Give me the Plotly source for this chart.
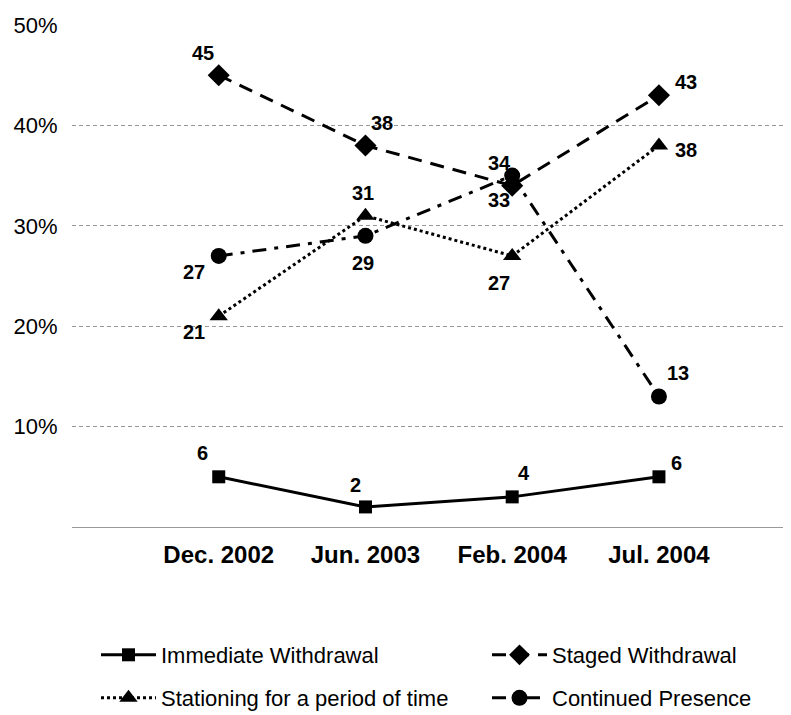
import plotly.graph_objects as go

# survey waves
waves = ["Dec. 2002", "Jun. 2003", "Feb. 2004", "Jul. 2004"]

# plotted values (as drawn in the chart) and the printed labels
immediate = [5, 2, 3, 5]
immediate_lbl = ["6", "2", "4", "6"]
staged = [45, 38, 34, 43]
staged_lbl = ["45", "38", "33", "43"]
stationing = [21, 31, 27, 38]
stationing_lbl = ["21", "31", "27", "38"]
presence = [27, 29, 35, 13]
presence_lbl = ["27", "29", "34", "13"]

y_ticks = [10, 20, 30, 40, 50]
y_ticktext = ["10%", "20%", "30%", "40%", "50%"]

FONT = "Liberation Sans, Arial, sans-serif"

# the page body has an 8px margin, so the figure is drawn 8px smaller
W, H = 783, 707

series = [
    # name, values, labels, marker, dash, legend id, label offsets (px: right, down), marker size
    ("Immediate Withdrawal", immediate, immediate_lbl, "square", "solid", "legend",
     [(-16, -24), (-10, -22), (12, -24), (18, -14)], 13),
    ("Staged Withdrawal", staged, staged_lbl, "diamond", "14px,9px", "legend2",
     [(-16, -22), (17, -22), (-13, 14), (27, -13)], 17),
    ("Stationing for a period of time", stationing, stationing_lbl, "triangle-up", "3px,3px", "legend3",
     [(-25, 16), (-2, -23), (-13, 27), (27, 5)], 16),
    ("Continued Presence", presence, presence_lbl, "circle", "14px,8px,4px,8px", "legend4",
     [(-25, 16), (-2, 27), (-13, -13), (19, -23)], 16),
]

fig = go.Figure()

for name, vals, lbls, sym, dash, leg, offs, msize in series:
    fig.add_trace(go.Scatter(
        x=waves,
        y=vals,
        name=name,
        mode="lines+markers",
        line=dict(color="black", width=3, dash=dash),
        marker=dict(symbol=sym, size=msize, color="black"),
        legend=leg,
        cliponaxis=False,
    ))
    for w, v, t, (dx, dy) in zip(waves, vals, lbls, offs):
        fig.add_annotation(
            x=w, y=v, text=t, showarrow=False,
            xshift=dx, yshift=-dy,
            font=dict(family=FONT, size=20, color="black", weight="bold"),
        )

leg_common = dict(
    xref="container", yref="container",
    xanchor="left", yanchor="middle",
    font=dict(family=FONT, size=22, color="black"),
    bgcolor="rgba(0,0,0,0)",
    itemwidth=55,
    orientation="h",
)

row1 = 1 - 647 / H
row2 = 1 - 690 / H
col1 = 88 / W
col2 = 479 / W

fig.update_layout(
    width=W,
    height=H,
    paper_bgcolor="white",
    plot_bgcolor="white",
    margin=dict(l=64, r=0, t=17, b=188, autoexpand=False),
    showlegend=True,
    legend=dict(x=col1, y=row1, **leg_common),
    legend2=dict(x=col2, y=row1, **leg_common),
    legend3=dict(x=col1, y=row2, **leg_common),
    legend4=dict(x=col2, y=row2, **leg_common),
    xaxis=dict(
        type="category",
        range=[-1, 3.9],
        automargin=False,
        showgrid=False,
        showline=True,
        linecolor="#999999",
        linewidth=1,
        ticks="outside",
        ticklen=6,
        tickcolor="rgba(0,0,0,0)",
        tickfont=dict(family=FONT, size=24, color="black", weight="bold"),
    ),
    yaxis=dict(
        range=[0, 50],
        automargin=False,
        tickmode="array",
        tickvals=y_ticks,
        ticktext=y_ticktext,
        showgrid=True,
        gridcolor="#999999",
        gridwidth=1,
        griddash="4px,3px",
        zeroline=False,
        showline=False,
        ticks="outside",
        ticklen=9,
        tickcolor="rgba(0,0,0,0)",
        tickfont=dict(family=FONT, size=22, color="black"),
    ),
)

fig.write_html("out.html")
